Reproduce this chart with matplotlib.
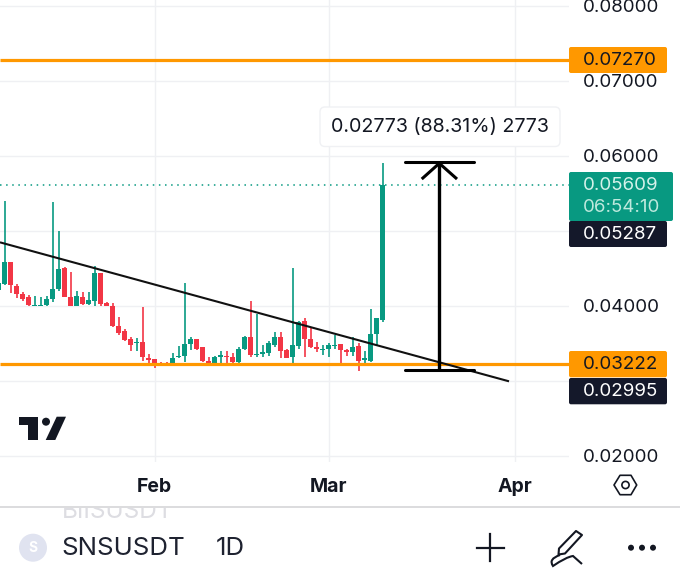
import matplotlib
matplotlib.use("Agg")
import matplotlib.pyplot as plt
from matplotlib.patches import FancyBboxPatch, Circle, Polygon, Rectangle
from matplotlib.path import Path
from matplotlib.patches import PathPatch

plt.rcParams['font.family'] = ['Inter', 'DejaVu Sans']

opens = [.04212,.04291,.04589,.04269,.04158,.04114,.04003,.04003,.04007,.04087,.04220,.04500,.04114,.04003,.04114,.04029,.04069,.04434,.04034,.04003,
         .03732,.03661,.03554,.03505,.03514,.03310,.03287,.03240,.03230,.03212,.03314,.03332,.03487,.03554,.03447,.03270,.03212,.03323,.03332,.03314,
         .03247,.03421,.03581,.03341,.03358,.03376,.03483,.03585,.03412,.03314,.03470,.03798,.03554,.03456,.03412,.03425,.03470,.03487,.03412,.03385,
         .03461,.03279,.03270,.03625,.03812]
highs = [.04320,.05402,.04589,.04291,.04185,.04145,.04131,.04114,.04131,.05384,.04998,.04522,.04447,.04198,.04189,.04189,.04531,.04434,.04056,.04043,
         .03856,.03687,.03581,.03567,.03980,.03359,.03287,.03256,.03248,.03376,.03465,.04300,.03590,.03558,.03456,.03314,.03336,.03403,.03403,.03367,
         .03456,.03598,.04065,.03891,.03478,.03536,.03647,.03656,.03425,.04500,.03803,.03834,.03701,.03514,.03483,.03510,.03607,.03492,.03425,.03589,
         .03501,.03403,.03954,.03834,.05899]
lows = [.04200,.04278,.04176,.04109,.04065,.04003,.04003,.04003,.04003,.04056,.04198,.04114,.04003,.04003,.04011,.04016,.04003,.04003,.03994,.03723,
        .03612,.03536,.03403,.03403,.03270,.03212,.03168,.03203,.03203,.03203,.03301,.03256,.03412,.03412,.03252,.03199,.03199,.03243,.03212,.03212,
        .03243,.03412,.03314,.03314,.03323,.03332,.03456,.03301,.03301,.03199,.03425,.03323,.03443,.03385,.03345,.03314,.03425,.03199,.03332,.03332,
        .03136,.03199,.03252,.03478,.03789]
closes = [.04300,.04589,.04278,.04154,.04091,.04007,.04016,.04016,.04087,.04225,.04491,.04114,.04003,.04136,.04025,.04078,.04438,.04025,.03998,.03732,
          .03643,.03545,.03478,.03518,.03314,.03279,.03225,.03228,.03222,.03301,.03332,.03487,.03554,.03421,.03261,.03199,.03323,.03341,.03314,.03252,
          .03425,.03581,.03350,.03363,.03385,.03501,.03589,.03403,.03305,.03474,.03789,.03554,.03447,.03425,.03425,.03474,.03483,.03412,.03390,.03456,
          .03270,.03301,.03621,.03834,.05609]

price_ticks = [.02, .03, .04, .05, .06, .07, .08]
price_labels = ['0.02000', '', '0.04000', '', '0.06000', '0.07000', '0.08000']
month_ticks = [26, 55, 86]
month_labels = ['Feb', 'Mar', 'Apr']
levels = [.0727, .03222]
last_price = .05609
trend_x = [0.22, 85.06]
trend_y = [.04847, .02995]
measure_x = 73.44
measure_low, measure_high = .03146, .05924
measure_bar_x = [67.7, 79.2]
head_x = [70.7, 73.44, 76.2]
head_y = [.05704, .05900, .05704]

GREEN, RED, ORANGE, DARK = '#089981', '#F23645', '#FF9800', '#131722'

fig = plt.figure(figsize=(6.8, 5.72), dpi=100, facecolor='white')
ax = fig.add_axes([0, 110/572, 569/680, 462/572])
ax.set_xlim(1 - 4.67/6, 1 + (569 - 4.67)/6)
ax.set_ylim(.02 - 6/7505, .02 + 456/7505)
for s in ax.spines.values():
    s.set_visible(False)
ax.yaxis.tick_right()
ax.set_yticks(price_ticks, price_labels)
ax.set_xticks(month_ticks, month_labels)
ax.tick_params(axis='y', length=0, pad=10.2, labelsize=13.5, labelcolor=DARK)
ax.tick_params(axis='x', length=0, pad=11.5, labelsize=14, labelcolor=DARK)
for t in ax.get_xticklabels():
    t.set_fontweight('bold')
ax.grid(True, color='#eff0f3', lw=1)
ax.set_axisbelow(True)

xs = list(range(len(opens)))
cols = [GREEN if c >= o else RED for o, c in zip(opens, closes)]
ax.vlines(xs, lows, highs, colors=cols, lw=1.2, zorder=3)
ax.bar(xs, [abs(c - o) for o, c in zip(opens, closes)],
       bottom=[min(o, c) for o, c in zip(opens, closes)],
       width=0.84, color=cols, lw=0, zorder=4)

ax.hlines(levels, 0, 1, transform=ax.get_yaxis_transform(), colors=ORANGE, lw=2.3, zorder=5)
ax.plot(ax.get_xlim(), [last_price]*2, color=GREEN, lw=1.1, ls=(0, (1, 3)), zorder=2)
ax.plot(trend_x, trend_y, color='#111111', lw=1.5, zorder=6, solid_capstyle='butt')
ax.plot([measure_x]*2, [measure_low, measure_high], color='black', lw=2.4, zorder=7, solid_capstyle='butt')
ax.plot(measure_bar_x, [measure_high]*2, color='black', lw=2.2, zorder=7, solid_capstyle='round')
ax.plot(measure_bar_x, [measure_low]*2, color='black', lw=2.2, zorder=7, solid_capstyle='round')
ax.plot(head_x, head_y, color='black', lw=2.2, zorder=7)

# interface overlay in pixel coordinates
ui = fig.add_axes([0, 0, 1, 1], zorder=10)
ui.set_xlim(0, 680)
ui.set_ylim(572, 0)
ui.axis('off')
ui.patch.set_alpha(0)

def box(x0, y0, x1, y1, fc, ec='none', r=2, lw=0, z=2):
    ui.add_patch(FancyBboxPatch((x0 + r, y0 + r), x1 - x0 - 2*r, y1 - y0 - 2*r,
                                boxstyle=f'round,pad={r},rounding_size={r}', fc=fc, ec=ec, lw=lw, zorder=z))

LBL = dict(fontsize=13.5, va='center', ha='left', zorder=5)
box(569, 47, 667, 73, ORANGE)
ui.text(583, 60.5, '0.07270', color=DARK, **LBL)
box(569, 172, 673, 221, GREEN)
ui.text(583, 185.5, '0.05609', color='#d5f2ea', **LBL)
ui.text(583, 207.5, '06:54:10', color='#bde9dd', **LBL)
box(569, 221, 667, 247, '#14182a')
ui.text(583, 234.5, '0.05287', color='white', **LBL)
box(569, 351, 667, 377.3, ORANGE)
ui.text(583, 364.5, '0.03222', color=DARK, **LBL)
box(569, 378, 667, 404.3, '#14182a')
ui.text(583, 391.5, '0.02995', color='white', **LBL)

box(320, 107, 560, 146.5, 'white', ec='#f0f1f4', r=5, lw=1)
ui.text(439.5, 127.2, '0.02773 (88.31%) 2773', color=DARK, fontsize=14.2, ha='center', va='center', zorder=5)

# TradingView logo
ui.add_patch(Polygon([(19, 416.7), (37.7, 416.7), (37.7, 440), (28.3, 440), (28.3, 425), (19, 425)], fc=DARK, lw=0))
ui.add_patch(Circle((46, 421.7), 4, fc=DARK, lw=0))
ui.add_patch(Polygon([(56.7, 416.7), (66, 416.7), (55.3, 440), (45.7, 440)], fc=DARK, lw=0))

# settings hexagon
ui.add_patch(Polygon([(614, 485), (620, 475.3), (631, 475.3), (636.7, 485), (631, 494.7), (620, 494.7)],
                     fc='none', ec=DARK, lw=1.2, joinstyle='round'))
ui.add_patch(Circle((625.5, 485), 3.6, fc='none', ec=DARK, lw=1.2))

# bottom bar
ui.plot([0, 680], [507, 507], color='#dcdcde', lw=1.4, zorder=4)
ghost = ui.text(62, 518, 'BIISUSDT', color='#dddde2', fontsize=17.6, ha='left', va='baseline', zorder=1)
ghost.set_clip_on(True)
ghost.set_clip_path(Rectangle((0, 507), 680, 30, transform=ui.transData))
ui.add_patch(Circle((33, 547.7), 14, fc='#e0e3f0', lw=0))
ui.text(33, 548, 'S', color='white', fontsize=10, fontweight='bold', ha='center', va='center')
ui.text(61, 548.5, 'SNSUSDT', color='#1e2230', fontsize=18.6, ha='left', va='center')
ui.text(215.5, 548.5, '1D', color='#1e2230', fontsize=18.6, ha='left', va='center')

ui.plot([476.5, 503.5], [547.5, 547.5], color=DARK, lw=1.6)
ui.plot([490, 490], [534, 561], color=DARK, lw=1.6)
ui.add_patch(Polygon([(559, 548.5), (576, 531), (582, 535), (565, 553.5), (558.5, 554.5)], fc='none', ec=DARK, lw=1.5, joinstyle='round'))
ui.add_patch(PathPatch(Path([(560, 555), (548, 559), (553, 566), (566, 557), (573, 556), (582, 564)],
                            [Path.MOVETO, Path.CURVE3, Path.CURVE3, Path.CURVE3, Path.CURVE3, Path.LINETO]),
                       fc='none', ec=DARK, lw=1.5))
for x in (631, 642, 653):
    ui.add_patch(Circle((x, 547.7), 3, fc=DARK, lw=0))

fig.savefig('out.png', dpi=100)
